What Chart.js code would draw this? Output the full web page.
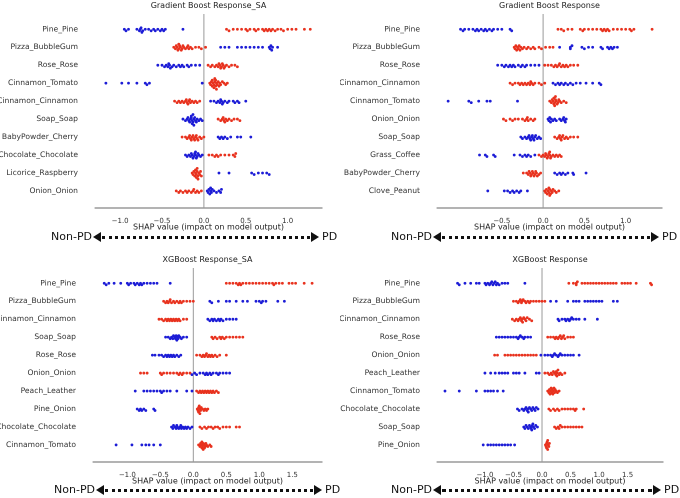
<!DOCTYPE html>
<html>
<head>
<meta charset="utf-8">
<script src="https://cdn.jsdelivr.net/npm/chart.js@4.4.1/dist/chart.umd.min.js"></script>
<style>
  body { margin: 0; background: #fff; width: 680px; height: 498px; position: relative; overflow: hidden; font-family: "DejaVu Sans", sans-serif; }
  canvas { position: absolute; }
  .lbl { position: absolute; font-size: 11px; color: #111; line-height: 12px; }
  .dots { position: absolute; height: 0; border-top: 3px dotted #111; }
  .tl, .tr { position: absolute; width: 0; height: 0; border-top: 5px solid transparent; border-bottom: 5px solid transparent; }
  .tl { border-right: 8px solid #111; }
  .tr { border-left: 8px solid #111; }
</style>
</head>
<body>
<canvas id="c1"></canvas>
<canvas id="c2"></canvas>
<canvas id="c3"></canvas>
<canvas id="c4"></canvas>
<script>
// ---- data (SHAP values) ----
var gbSaTitle = 'Gradient Boost Response_SA';
var gbSaFeatures = ['Pine_Pine', 'Pizza_BubbleGum', 'Rose_Rose', 'Cinnamon_Tomato', 'Cinnamon_Cinnamon', 'Soap_Soap', 'BabyPowder_Cherry', 'Chocolate_Chocolate', 'Licorice_Raspberry', 'Onion_Onion'];
var gbSaRed = [
  [0.27,0.3,0.35,0.4,0.45,0.5,0.52,0.55,0.6,0.62,0.65,0.7,0.72,0.74,0.76,0.78,0.8,0.82,0.85,0.88,0.92,0.95,1.0,1.05,1.1,1.2,1.27],
  [-0.36,-0.34,-0.33,-0.32,-0.31,-0.3,-0.3,-0.29,-0.28,-0.27,-0.26,-0.25,-0.24,-0.22,-0.2,-0.19,-0.18,-0.16,-0.14,-0.1,-0.06,-0.03,0.02],
  [0.05,0.08,0.1,0.13,0.15,0.17,0.18,0.19,0.2,0.21,0.22,0.23,0.24,0.25,0.27,0.3,0.33,0.37,0.4],
  [0.07,0.08,0.09,0.1,0.1,0.11,0.12,0.12,0.13,0.13,0.14,0.14,0.15,0.15,0.16,0.17,0.18,0.19,0.2,0.22,0.24,0.26,0.28],
  [-0.35,-0.32,-0.3,-0.28,-0.26,-0.24,-0.22,-0.21,-0.2,-0.19,-0.18,-0.17,-0.16,-0.14,-0.12,-0.1,-0.08,-0.05],
  [0.17,0.2,0.22,0.23,0.24,0.25,0.26,0.28,0.3,0.33,0.36,0.4,0.43],
  [-0.26,-0.22,-0.2,-0.18,-0.17,-0.16,-0.15,-0.14,-0.13,-0.12,-0.11,-0.1,-0.09,-0.08,-0.07,-0.05,-0.03,0.0],
  [0.06,0.1,0.13,0.15,0.17,0.2,0.25,0.3,0.35,0.37,0.38],
  [-0.14,-0.13,-0.12,-0.11,-0.1,-0.1,-0.09,-0.09,-0.08,-0.08,-0.07,-0.07,-0.06,-0.05,-0.04,-0.03],
  [-0.33,-0.3,-0.28,-0.25,-0.22,-0.2,-0.18,-0.15,-0.13,-0.12,-0.1,-0.08,-0.06,-0.03]
];
var gbSaBlue = [
  [-0.95,-0.93,-0.9,-0.8,-0.77,-0.76,-0.75,-0.74,-0.73,-0.7,-0.66,-0.63,-0.6,-0.58,-0.55,-0.52,-0.5,-0.48,-0.46,-0.25],
  [0.2,0.25,0.3,0.4,0.45,0.5,0.55,0.6,0.65,0.7,0.78,0.79,0.8,0.81,0.82,0.88],
  [-0.55,-0.5,-0.47,-0.45,-0.43,-0.42,-0.41,-0.4,-0.38,-0.36,-0.33,-0.3,-0.28,-0.26,-0.24,-0.2,-0.18,-0.15,-0.1,-0.05],
  [-1.17,-0.98,-0.9,-0.8,-0.7,-0.68,-0.65,-0.02],
  [0.08,0.12,0.15,0.17,0.19,0.2,0.21,0.22,0.23,0.25,0.28,0.3,0.35,0.37,0.4,0.42,0.5],
  [-0.25,-0.22,-0.2,-0.19,-0.18,-0.17,-0.16,-0.15,-0.15,-0.14,-0.14,-0.13,-0.13,-0.12,-0.12,-0.11,-0.1,-0.09,-0.08,-0.06,-0.04,-0.02],
  [0.17,0.19,0.21,0.23,0.25,0.28,0.32,0.4,0.44,0.56],
  [-0.22,-0.2,-0.18,-0.16,-0.15,-0.14,-0.13,-0.12,-0.11,-0.1,-0.1,-0.09,-0.08,-0.07,-0.06,-0.04,-0.02],
  [0.18,0.3,0.57,0.6,0.65,0.7,0.75,0.78],
  [0.04,0.05,0.06,0.07,0.08,0.08,0.09,0.1,0.12,0.15,0.18,0.2,0.21]
];

var gbTitle = 'Gradient Boost Response';
var gbFeatures = ['Pine_Pine', 'Pizza_BubbleGum', 'Rose_Rose', 'Cinnamon_Cinnamon', 'Cinnamon_Tomato', 'Onion_Onion', 'Soap_Soap', 'Grass_Coffee', 'BabyPowder_Cherry', 'Clove_Peanut'];
var gbRed = [
  [0.18,0.22,0.25,0.3,0.35,0.45,0.48,0.5,0.55,0.6,0.65,0.7,0.72,0.74,0.76,0.78,0.8,0.85,0.9,0.95,1.0,1.05,1.07,1.1,1.32],
  [-0.35,-0.34,-0.33,-0.32,-0.31,-0.3,-0.29,-0.28,-0.27,-0.25,-0.23,-0.2,-0.18,-0.15,-0.12,-0.1,-0.05,-0.02,0.03,0.08,0.12],
  [0.02,0.06,0.1,0.13,0.15,0.17,0.19,0.2,0.22,0.24,0.26,0.28,0.3,0.33,0.37,0.42],
  [-0.4,-0.37,-0.34,-0.3,-0.28,-0.26,-0.24,-0.22,-0.2,-0.18,-0.16,-0.15,-0.14,-0.12,-0.1,-0.05,-0.02,0.02],
  [0.08,0.1,0.11,0.12,0.13,0.13,0.14,0.14,0.15,0.15,0.16,0.17,0.18,0.19,0.2,0.22,0.25,0.28],
  [-0.48,-0.45,-0.4,-0.37,-0.34,-0.3,-0.25,-0.22,-0.2,-0.19,-0.18,-0.15,-0.12,-0.1],
  [0.14,0.17,0.19,0.2,0.21,0.22,0.23,0.24,0.26,0.28,0.3,0.33,0.37,0.42],
  [-0.05,-0.02,0.0,0.02,0.03,0.04,0.05,0.06,0.07,0.08,0.08,0.09,0.1,0.12,0.14,0.16,0.18,0.2,0.22],
  [-0.24,-0.2,-0.18,-0.17,-0.16,-0.15,-0.14,-0.13,-0.12,-0.11,-0.1,-0.09,-0.08,-0.07,-0.05,-0.03],
  [0.02,0.03,0.04,0.05,0.06,0.07,0.07,0.08,0.08,0.09,0.1,0.11,0.12,0.14,0.16,0.19]
];
var gbBlue = [
  [-1.0,-0.97,-0.95,-0.9,-0.85,-0.82,-0.8,-0.78,-0.75,-0.72,-0.7,-0.68,-0.65,-0.62,-0.6,-0.55,-0.5,-0.4,-0.38],
  [0.2,0.33,0.33,0.35,0.47,0.5,0.55,0.6,0.7,0.72,0.78,0.8,0.82,0.84,0.86,0.9],
  [-0.55,-0.5,-0.47,-0.45,-0.42,-0.4,-0.38,-0.36,-0.34,-0.3,-0.27,-0.25,-0.22,-0.2,-0.15,-0.1,-0.05],
  [0.12,0.15,0.18,0.2,0.22,0.25,0.27,0.3,0.33,0.36,0.4,0.45,0.52,0.6,0.68,0.7],
  [-1.15,-0.9,-0.87,-0.78,-0.68,-0.64,-0.31],
  [0.06,0.07,0.08,0.09,0.1,0.12,0.14,0.16,0.2,0.22,0.24,0.25,0.26,0.27,0.28],
  [-0.27,-0.25,-0.22,-0.2,-0.18,-0.17,-0.16,-0.15,-0.14,-0.13,-0.12,-0.11,-0.1,-0.09,-0.07,-0.05,-0.03],
  [-0.77,-0.7,-0.68,-0.6,-0.58,-0.35,-0.28,-0.25,-0.22,-0.2,-0.18,-0.15,-0.1],
  [0.14,0.17,0.2,0.22,0.24,0.27,0.3,0.36,0.37,0.52],
  [-0.67,-0.47,-0.43,-0.4,-0.37,-0.35,-0.32,-0.29,-0.27,-0.19]
];

var xgbSaTitle = 'XGBoost Response_SA';
var xgbSaFeatures = ['Pine_Pine', 'Pizza_BubbleGum', 'Cinnamon_Cinnamon', 'Soap_Soap', 'Rose_Rose', 'Onion_Onion', 'Peach_Leather', 'Pine_Onion', 'Chocolate_Chocolate', 'Cinnamon_Tomato'];
var xgbSaRed = [
  [0.5,0.55,0.6,0.65,0.68,0.7,0.72,0.75,0.8,0.85,0.9,0.95,1.0,1.05,1.1,1.15,1.2,1.22,1.25,1.3,1.35,1.45,1.5,1.55,1.68,1.8],
  [-0.45,-0.42,-0.4,-0.38,-0.36,-0.35,-0.33,-0.3,-0.28,-0.25,-0.22,-0.2,-0.18,-0.15,-0.1,-0.05,0.0],
  [-0.52,-0.48,-0.45,-0.42,-0.4,-0.38,-0.36,-0.34,-0.32,-0.3,-0.28,-0.26,-0.24,-0.22,-0.2,-0.15,-0.1],
  [0.28,0.3,0.33,0.36,0.4,0.42,0.44,0.47,0.5,0.55,0.6,0.65,0.7,0.75],
  [0.05,0.1,0.13,0.15,0.17,0.19,0.2,0.22,0.24,0.26,0.28,0.3,0.33,0.36,0.4,0.5],
  [-0.8,-0.75,-0.7,-0.5,-0.48,-0.45,-0.4,-0.35,-0.3,-0.25,-0.22,-0.2,-0.17,-0.15,-0.1,-0.05],
  [0.05,0.08,0.1,0.12,0.14,0.16,0.18,0.2,0.22,0.24,0.26,0.28,0.3,0.32,0.35,0.38],
  [0.06,0.07,0.08,0.08,0.09,0.1,0.1,0.11,0.12,0.14,0.16,0.18,0.2,0.22],
  [0.1,0.13,0.17,0.2,0.23,0.27,0.3,0.33,0.37,0.4,0.45,0.5,0.55,0.65,0.7],
  [0.08,0.1,0.11,0.12,0.13,0.13,0.14,0.15,0.15,0.16,0.17,0.18,0.19,0.2,0.22,0.25,0.27]
];
var xgbSaBlue = [
  [-1.35,-1.32,-1.28,-1.2,-1.1,-1.0,-0.98,-0.95,-0.9,-0.88,-0.85,-0.82,-0.8,-0.78,-0.75,-0.7,-0.65,-0.6,-0.55,-0.35],
  [0.25,0.28,0.38,0.5,0.55,0.65,0.75,0.82,0.95,1.0,1.03,1.05,1.1,1.28,1.38],
  [0.22,0.25,0.28,0.3,0.32,0.35,0.38,0.4,0.42,0.45,0.5,0.55,0.6,0.65],
  [-0.42,-0.38,-0.35,-0.33,-0.31,-0.3,-0.28,-0.27,-0.26,-0.25,-0.24,-0.23,-0.22,-0.2,-0.18,-0.15,-0.1],
  [-0.62,-0.58,-0.52,-0.48,-0.45,-0.42,-0.4,-0.38,-0.36,-0.34,-0.32,-0.3,-0.28,-0.25,-0.22,-0.19],
  [-0.02,0.02,0.05,0.1,0.15,0.18,0.2,0.22,0.25,0.27,0.3,0.35,0.38,0.4,0.45,0.5,0.55],
  [-0.88,-0.75,-0.7,-0.65,-0.6,-0.55,-0.5,-0.48,-0.45,-0.4,-0.35,-0.25,-0.1,-0.02],
  [-0.85,-0.82,-0.8,-0.78,-0.75,-0.72,-0.6,-0.58],
  [-0.33,-0.31,-0.3,-0.28,-0.26,-0.25,-0.24,-0.22,-0.2,-0.19,-0.18,-0.16,-0.14,-0.12,-0.1,-0.08,-0.05,-0.02],
  [-1.17,-0.93,-0.78,-0.72,-0.67,-0.6,-0.5]
];

var xgbTitle = 'XGBoost Response';
var xgbFeatures = ['Pine_Pine', 'Pizza_BubbleGum', 'Cinnamon_Cinnamon', 'Rose_Rose', 'Onion_Onion', 'Peach_Leather', 'Cinnamon_Tomato', 'Chocolate_Chocolate', 'Soap_Soap', 'Pine_Onion'];
var xgbRed = [
  [0.47,0.55,0.6,0.6,0.62,0.7,0.75,0.8,0.85,0.9,0.95,1.0,1.05,1.1,1.15,1.2,1.25,1.3,1.4,1.45,1.5,1.55,1.65,1.9,1.92],
  [-0.5,-0.45,-0.42,-0.4,-0.38,-0.36,-0.35,-0.33,-0.3,-0.28,-0.25,-0.22,-0.2,-0.15,-0.1,-0.05,0.0,0.05],
  [-0.52,-0.48,-0.45,-0.42,-0.4,-0.38,-0.36,-0.35,-0.34,-0.32,-0.3,-0.28,-0.26,-0.22,-0.18],
  [0.1,0.15,0.2,0.23,0.25,0.28,0.3,0.32,0.34,0.36,0.38,0.4,0.45,0.5,0.55],
  [-0.83,-0.78,-0.65,-0.6,-0.55,-0.5,-0.45,-0.4,-0.35,-0.3,-0.25,-0.2,-0.15,-0.1],
  [0.05,0.1,0.13,0.16,0.18,0.2,0.22,0.24,0.25,0.26,0.27,0.28,0.3,0.32,0.35,0.4],
  [0.1,0.12,0.13,0.14,0.15,0.16,0.17,0.18,0.19,0.2,0.21,0.22,0.23,0.25,0.27,0.3],
  [0.12,0.15,0.2,0.23,0.27,0.3,0.35,0.4,0.45,0.5,0.55,0.58,0.6,0.73],
  [0.22,0.25,0.28,0.3,0.32,0.35,0.4,0.45,0.5,0.55,0.6,0.65,0.7],
  [0.06,0.07,0.08,0.08,0.09,0.1,0.1,0.11,0.12,0.13]
];
var xgbBlue = [
  [-1.48,-1.45,-1.35,-1.25,-1.15,-1.1,-1.0,-0.98,-0.95,-0.92,-0.9,-0.88,-0.86,-0.84,-0.82,-0.8,-0.78,-0.75,-0.7,-0.65,-0.6,-0.3],
  [0.15,0.25,0.45,0.55,0.6,0.65,0.75,0.8,0.85,0.9,0.95,1.0,1.05,1.25,1.32],
  [0.28,0.3,0.35,0.4,0.42,0.45,0.48,0.5,0.52,0.55,0.6,0.65,0.75,0.97],
  [-0.8,-0.75,-0.7,-0.65,-0.6,-0.55,-0.5,-0.45,-0.42,-0.4,-0.38,-0.35,-0.32,-0.3,-0.25,-0.2],
  [-0.02,0.05,0.1,0.15,0.18,0.2,0.22,0.25,0.28,0.3,0.32,0.35,0.4,0.45,0.5,0.55,0.65],
  [-1.0,-0.9,-0.82,-0.75,-0.7,-0.65,-0.6,-0.5,-0.45,-0.4,-0.3,-0.1,-0.05],
  [-1.7,-1.45,-1.15,-1.0,-0.95,-0.9,-0.85,-0.78,-0.68],
  [-0.43,-0.4,-0.35,-0.32,-0.3,-0.28,-0.26,-0.25,-0.24,-0.22,-0.2,-0.18,-0.16,-0.14,-0.12,-0.1,-0.07],
  [-0.32,-0.3,-0.28,-0.26,-0.24,-0.22,-0.2,-0.19,-0.18,-0.17,-0.16,-0.15,-0.13,-0.11,-0.08],
  [-1.03,-0.95,-0.9,-0.85,-0.8,-0.75,-0.7,-0.65,-0.6,-0.55,-0.48]
];

var RED = '#e8321e';
var BLUE = '#1c1cd6';

/**
 * Beeswarm layout: stack points of one row so they do not overlap
 */
function swarm(redVals, blueVals, row, pxPerUnit) {
    var pts = [];
    redVals.forEach(function(v) { pts.push({ x: v, c: RED }); });
    blueVals.forEach(function(v) { pts.push({ x: v, c: BLUE }); });
    pts.sort(function(a, b) { return a.x - b.x; });
    var placed = [];
    var step = 0.085;
    pts.forEach(function(p) {
        for (var k = 0; k < 30; k++) {
            var off = (k % 2 ? 1 : -1) * Math.ceil(k / 2) * step;
            var clash = placed.some(function(q) {
                return Math.abs(q.x - p.x) * pxPerUnit < 2.6 && Math.abs(q.off - off) < step * 0.5;
            });
            if (!clash) { p.off = off; break; }
        }
        placed.push(p);
    });
    return placed.map(function(p) { return { x: p.x, y: row + p.off, c: p.c }; });
}

// gray zero line plus the panel title, centred over the plot area
var panelDecor = {
    id: 'panelDecor',
    beforeDatasetsDraw: function(chart) {
        var x = chart.scales.x.getPixelForValue(0);
        var a = chart.chartArea, ctx = chart.ctx;
        ctx.save();
        ctx.strokeStyle = '#999';
        ctx.lineWidth = 1;
        ctx.beginPath();
        ctx.moveTo(x, a.top);
        ctx.lineTo(x, a.bottom);
        ctx.stroke();
        ctx.fillStyle = '#222';
        ctx.font = '8px "DejaVu Sans"';
        ctx.textAlign = 'center';
        ctx.textBaseline = 'middle';
        ctx.fillText(chart.options.panelTitle, (a.left + a.right) / 2, 6);
        ctx.restore();
    }
};

function makePanel(id, left, top, title, features, red, blue, xmin, xmax, areaLeft, areaRight) {
    var W = 340, H = 232;
    var cv = document.getElementById(id);
    cv.style.left = left + 'px';
    cv.style.top = top + 'px';
    cv.width = W;
    cv.height = H;
    cv.style.width = W + 'px';
    cv.style.height = H + 'px';
    var pxPerUnit = (areaRight - areaLeft) / (xmax - xmin);
    var pts = [];
    features.forEach(function(f, i) {
        pts = pts.concat(swarm(red[i], blue[i], i, pxPerUnit));
    });
    new Chart(cv, {
        type: 'scatter',
        data: {
            datasets: [{
                data: pts.map(function(p) { return { x: p.x, y: p.y }; }),
                backgroundColor: pts.map(function(p) { return p.c; }),
                pointRadius: 1.4,
                borderWidth: 0
            }]
        },
        options: {
            responsive: false,
            animation: false,
            devicePixelRatio: 2,
            panelTitle: title,
            layout: { padding: { left: 0, right: W - areaRight, top: 14, bottom: 0 } },
            plugins: {
                legend: { display: false },
                tooltip: { enabled: false },
                title: { display: false }
            },
            scales: {
                x: {
                    min: xmin, max: xmax,
                    grid: { display: false },
                    border: { display: true, color: '#333', width: 0.8 },
                    afterBuildTicks: function(s) {
                        s.ticks = s.ticks.filter(function(t) {
                            return Math.abs(t.value * 2 - Math.round(t.value * 2)) < 1e-6;
                        });
                    },
                    afterFit: function(s) { s.height = 24; },
                    ticks: {
                        stepSize: 0.5,
                        autoSkip: false,
                        maxRotation: 0,
                        color: '#333',
                        padding: 1,
                        font: { family: 'DejaVu Sans', size: 7 },
                        callback: function(v) { return v.toFixed(1).replace('-', '\u2212'); }
                    },
                    title: {
                        display: true,
                        text: 'SHAP value (impact on model output)',
                        color: '#222',
                        font: { family: 'DejaVu Sans', size: 8 },
                        padding: { top: 1, bottom: 0 }
                    }
                },
                y: {
                    reverse: true,
                    min: -0.85, max: 9.95,
                    grid: { display: false },
                    border: { display: false },
                    afterBuildTicks: function(s) {
                        s.ticks = features.map(function(f, i) { return { value: i }; });
                    },
                    afterFit: function(s) { s.width = areaLeft; },
                    ticks: {
                        autoSkip: false,
                        color: '#333',
                        padding: 9,
                        font: { family: 'DejaVu Sans', size: 7.6 },
                        callback: function(v) { return features[v]; }
                    }
                }
            }
        },
        plugins: [panelDecor]
    });
}

makePanel('c1', 0, 0, gbSaTitle, gbSaFeatures, gbSaRed, gbSaBlue, -1.3, 1.41, 95, 322);
makePanel('c2', 340, 0, gbTitle, gbFeatures, gbRed, gbBlue, -1.285, 1.44, 97, 322);
makePanel('c3', 0, 254, xgbSaTitle, xgbSaFeatures, xgbSaRed, xgbSaBlue, -1.52, 1.95, 93, 322);
makePanel('c4', 340, 254, xgbTitle, xgbFeatures, xgbRed, xgbBlue, -1.84, 2.12, 97, 323);

// Non-PD <---> PD direction markers under each panel
function arrowRow(x0, x1, y) {
    var b = document.body;
    function add(cls, css, text) {
        var d = document.createElement('div');
        d.className = cls;
        for (var k in css) d.style[k] = css[k];
        if (text) d.textContent = text;
        b.appendChild(d);
    }
    add('lbl', { left: (x0 - 42) + 'px', top: (y - 6) + 'px' }, 'Non-PD');
    add('tl', { left: x0 + 'px', top: (y - 5) + 'px' });
    add('dots', { left: (x0 + 9) + 'px', width: (x1 - x0 - 18) + 'px', top: (y - 1.5) + 'px' });
    add('tr', { left: (x1 - 8) + 'px', top: (y - 5) + 'px' });
    add('lbl', { left: (x1 + 3) + 'px', top: (y - 6) + 'px' }, 'PD');
}
arrowRow(93, 319, 237);
arrowRow(433, 659, 237);
arrowRow(96, 322, 490);
arrowRow(433, 661, 490);
</script>
</body>
</html>
